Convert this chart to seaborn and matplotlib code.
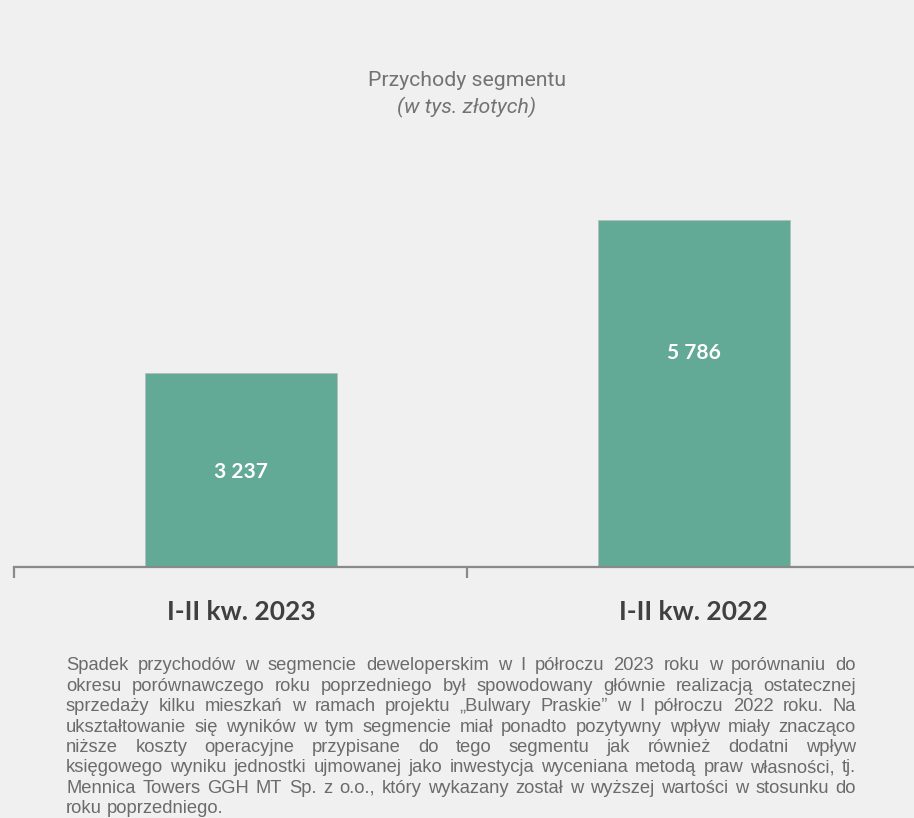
import matplotlib
matplotlib.use("Agg")
import matplotlib.pyplot as plt
import seaborn as sns
import pandas as pd
from matplotlib.font_manager import FontProperties

categories = ["I-II kw. 2023", "I-II kw. 2022"]
values = [3237, 5786]
value_labels = ["3 237", "5 786"]
title = "Przychody segmentu"
subtitle = "(w tys. złotych)"
paragraph_lines = [
    "Spadek przychodów w segmencie deweloperskim w I półroczu 2023 roku w porównaniu do",
    "okresu porównawczego roku poprzedniego był spowodowany głównie realizacją ostatecznej",
    "sprzedaży kilku mieszkań w ramach projektu „Bulwary Praskie” w I półroczu 2022 roku. Na",
    "ukształtowanie się wyników w tym segmencie miał ponadto pozytywny wpływ miały znacząco",
    "niższe koszty operacyjne przypisane do tego segmentu jak również dodatni wpływ",
    "księgowego wyniku jednostki ujmowanej jako inwestycja wyceniana metodą praw własności, tj.",
    "Mennica Towers GGH MT Sp. z o.o., który wykazany został w wyższej wartości w stosunku do",
    "roku poprzedniego.",
]

BG = "#f0f0f0"
BAR = "#62aa96"
W, H = 914, 818

sns.set_theme(style="white")
plt.rcParams["font.family"] = ["DejaVu Sans"]

fig = plt.figure(figsize=(W / 100, H / 100), dpi=100, facecolor=BG)

# axes: left 14px, right 914px, baseline at y=567px, top at 150px
ax_left, ax_right, ax_bottom, ax_top = 14, 914, 567, 150
ax = fig.add_axes([ax_left / W, 1 - ax_bottom / H, (ax_right - ax_left) / W, (ax_bottom - ax_top) / H])
ax.set_facecolor(BG)

df = pd.DataFrame({"cat": categories, "val": values})
sns.barplot(data=df, x="cat", y="val", color=BAR, width=0.424, ax=ax,
            saturation=1, edgecolor="#b8b8b8", linewidth=0.4)

for s in ["left", "right", "top"]:
    ax.spines[s].set_visible(False)
ax.spines["bottom"].set_color("#8a8a8a")
ax.spines["bottom"].set_linewidth(1.6)
ax.set_yticks([])
ax.set_xlabel("")
ax.set_ylabel("")

ax.set_xticks([0, 1])
ax.set_xticklabels(categories, fontfamily="Lato", fontweight="bold", fontsize=19, color="#404040")
ax.tick_params(axis="x", which="major", length=0, pad=24)
ax.set_xticks([-0.5, 0.5], minor=True)
ax.tick_params(axis="x", which="minor", bottom=True, length=8, width=1.6,
               color="#8a8a8a", direction="out")

# limits set after ticks so they are not expanded
ymax = (ax_bottom - ax_top) / 0.06
ax.set_ylim(0, ymax)
ax.set_xlim(-0.501, 1.486)

label_frac = [0.49, 0.615]
for i, (v, lab) in enumerate(zip(values, value_labels)):
    ax.text(i, v * label_frac[i], lab, ha="center", va="center", color="white",
            fontfamily="Lato", fontweight="bold", fontsize=15)

# titles
fig.text(467 / W, 1 - 80 / H, title, ha="center", va="center", fontfamily="Roboto",
         fontsize=15.3, color="#737373")
fig.text(467 / W, 1 - 107 / H, subtitle, ha="center", va="center", fontfamily="Roboto",
         fontstyle="italic", fontsize=15.3, color="#737373")

# justified paragraph
fp = FontProperties(family="Liberation Sans", size=13.2)
renderer = fig.canvas.get_renderer()
x0, x1 = 66, 856
y_first, spacing = 666, 20.4
space_w = renderer.get_text_width_height_descent(" ", fp, ismath=False)[0]
for li, line in enumerate(paragraph_lines):
    y = 1 - (y_first + li * spacing) / H
    words = line.split(" ")
    widths = [renderer.get_text_width_height_descent(w, fp, ismath=False)[0] for w in words]
    if li == len(paragraph_lines) - 1 or len(words) == 1:
        gap = space_w
    else:
        gap = (x1 - x0 - sum(widths)) / (len(words) - 1)
    x = x0
    for w, wd in zip(words, widths):
        fig.text(x / W, y, w, ha="left", va="center", fontproperties=fp, color="#6b6b6b")
        x += wd + gap

fig.savefig("out.png", dpi=100, facecolor=BG)
